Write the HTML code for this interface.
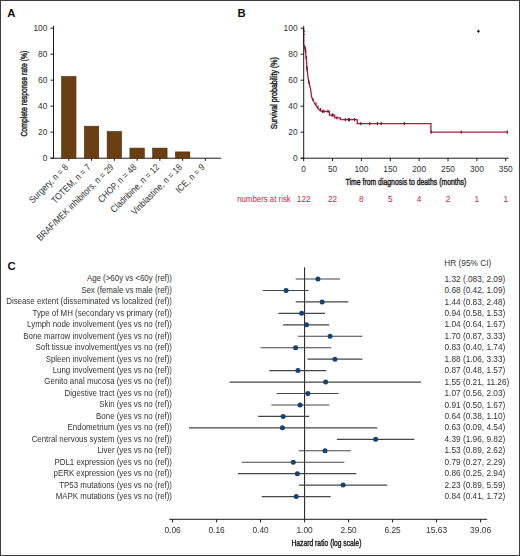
<!DOCTYPE html>
<html><head><meta charset="utf-8"><style>
html,body{margin:0;padding:0;background:#fff;}
body{width:520px;height:556px;overflow:hidden;}
svg{display:block;filter:blur(0.3px);}
text{font-family:"Liberation Sans", sans-serif;}
.lab{font-size:11.3px;font-weight:bold;fill:#111;}
.tk{font-size:8.4px;fill:#333;stroke:#333;stroke-width:0px;}
.rl{font-size:8.2px;fill:#333;stroke:#333;stroke-width:0px;}
.ct{font-size:7.9px;fill:#333;stroke:#333;stroke-width:0px;}
.hr{font-size:8.3px;fill:#333;stroke:#333;stroke-width:0px;}
.risk{font-size:8.3px;fill:#c2284a;stroke:#c2284a;stroke-width:0px;}
.cond{font-size:9.2px;fill:#1a1a1a;stroke:#1a1a1a;stroke-width:0.4px;}
.ax{stroke:#1a1a1a;stroke-width:1;fill:none;}
.bar{fill:#6b3f14;stroke:#4a2a0a;stroke-width:0.6;}
.km{fill:none;stroke:#b01a3c;stroke-width:1.3;}
.cm{stroke:#7a0f28;stroke-width:1.1;}
.ci{stroke:#454545;stroke-width:1.15;}
.pt{fill:#174270;}
</style></head><body>
<svg width="520" height="556" viewBox="0 0 520 556">
<rect x="0.5" y="0.5" width="519" height="555" fill="#fff" stroke="#3c3c3c" stroke-width="1"/>
<text transform="translate(7.30,17.10)" class="lab">A</text>
<line x1="53.5" y1="25.8" x2="53.5" y2="158.2" class="ax"/>
<line x1="50.5" y1="158.20" x2="53.5" y2="158.20" class="ax"/>
<text transform="translate(47.40,161.20)" class="tk" text-anchor="end">0</text>
<line x1="50.5" y1="132.20" x2="53.5" y2="132.20" class="ax"/>
<text transform="translate(47.40,135.20)" class="tk" text-anchor="end">20</text>
<line x1="50.5" y1="106.20" x2="53.5" y2="106.20" class="ax"/>
<text transform="translate(47.40,109.20)" class="tk" text-anchor="end">40</text>
<line x1="50.5" y1="80.20" x2="53.5" y2="80.20" class="ax"/>
<text transform="translate(47.40,83.20)" class="tk" text-anchor="end">60</text>
<line x1="50.5" y1="54.20" x2="53.5" y2="54.20" class="ax"/>
<text transform="translate(47.40,57.20)" class="tk" text-anchor="end">80</text>
<line x1="50.5" y1="28.20" x2="53.5" y2="28.20" class="ax"/>
<text transform="translate(47.40,31.20)" class="tk" text-anchor="end">100</text>
<line x1="50.5" y1="158.2" x2="221.2" y2="158.2" class="ax"/>
<line x1="68.80" y1="158.2" x2="68.80" y2="160.79999999999998" class="ax"/>
<rect x="61.60" y="76.5" width="14.4" height="81.70" class="bar"/>
<line x1="91.57" y1="158.2" x2="91.57" y2="160.79999999999998" class="ax"/>
<rect x="84.37" y="126.2" width="14.4" height="32.00" class="bar"/>
<line x1="114.34" y1="158.2" x2="114.34" y2="160.79999999999998" class="ax"/>
<rect x="107.14" y="131.5" width="14.4" height="26.70" class="bar"/>
<line x1="137.11" y1="158.2" x2="137.11" y2="160.79999999999998" class="ax"/>
<rect x="129.91" y="148.1" width="14.4" height="10.10" class="bar"/>
<line x1="159.88" y1="158.2" x2="159.88" y2="160.79999999999998" class="ax"/>
<rect x="152.68" y="148.1" width="14.4" height="10.10" class="bar"/>
<line x1="182.65" y1="158.2" x2="182.65" y2="160.79999999999998" class="ax"/>
<rect x="175.45" y="151.9" width="14.4" height="6.30" class="bar"/>
<line x1="205.42" y1="158.2" x2="205.42" y2="160.79999999999998" class="ax"/>
<text transform="translate(68.80,167.70) rotate(-45) scale(1,1.15)" class="rl" text-anchor="end">Surgery, n = 8</text>
<text transform="translate(91.57,167.70) rotate(-45) scale(1,1.15)" class="rl" text-anchor="end">TOTEM, n = 7</text>
<text transform="translate(114.34,167.70) rotate(-45) scale(1,1.15)" class="rl" text-anchor="end">BRAF/MEK inhibitors, n = 29</text>
<text transform="translate(137.11,167.70) rotate(-45) scale(1,1.15)" class="rl" text-anchor="end">CHOP, n = 48</text>
<text transform="translate(159.88,167.70) rotate(-45) scale(1,1.15)" class="rl" text-anchor="end">Cladribine, n = 12</text>
<text transform="translate(182.65,167.70) rotate(-45) scale(1,1.15)" class="rl" text-anchor="end">Vinblastine, n = 18</text>
<text transform="translate(205.42,167.70) rotate(-45) scale(1,1.15)" class="rl" text-anchor="end">ICE, n = 9</text>
<text transform="translate(26.60,93.60) rotate(-90)" class="cond" text-anchor="middle" textLength="86" lengthAdjust="spacingAndGlyphs">Complete response rate (%)</text>
<text transform="translate(237.60,17.00)" class="lab">B</text>
<polyline points="303.60,28.20 303.60,44.00 304.30,46.00 305.00,48.50 305.60,53.00 306.20,57.70 306.60,62.00 306.90,67.70 307.40,72.00 308.10,78.00 308.60,80.80 309.60,85.00 310.80,90.00 311.50,96.50 312.80,100.00 314.50,103.00 316.30,106.00 318.00,108.50 320.00,110.50 321.70,111.30 329.40,111.30 329.40,115.20 334.60,115.20 334.60,117.90 340.40,117.90 340.40,119.70 357.20,119.70 357.20,123.60 430.90,123.60 430.90,132.20 508.00,132.20" class="km"/>
<line x1="305.00" y1="45.90" x2="305.00" y2="49.10" class="cm"/>
<line x1="305.50" y1="47.90" x2="305.50" y2="51.10" class="cm"/>
<line x1="305.80" y1="49.90" x2="305.80" y2="53.10" class="cm"/>
<line x1="306.20" y1="56.10" x2="306.20" y2="59.30" class="cm"/>
<line x1="306.90" y1="66.10" x2="306.90" y2="69.30" class="cm"/>
<line x1="307.20" y1="68.40" x2="307.20" y2="71.60" class="cm"/>
<line x1="308.60" y1="79.20" x2="308.60" y2="82.40" class="cm"/>
<line x1="309.00" y1="80.90" x2="309.00" y2="84.10" class="cm"/>
<line x1="313.00" y1="97.90" x2="313.00" y2="101.10" class="cm"/>
<line x1="316.00" y1="102.20" x2="316.00" y2="105.40" class="cm"/>
<line x1="318.00" y1="105.40" x2="318.00" y2="108.60" class="cm"/>
<line x1="320.50" y1="108.00" x2="320.50" y2="111.20" class="cm"/>
<line x1="322.50" y1="109.70" x2="322.50" y2="112.90" class="cm"/>
<line x1="324.00" y1="109.70" x2="324.00" y2="112.90" class="cm"/>
<line x1="328.00" y1="109.70" x2="328.00" y2="112.90" class="cm"/>
<line x1="332.00" y1="113.60" x2="332.00" y2="116.80" class="cm"/>
<line x1="333.00" y1="113.60" x2="333.00" y2="116.80" class="cm"/>
<line x1="337.00" y1="116.30" x2="337.00" y2="119.50" class="cm"/>
<line x1="345.40" y1="118.10" x2="345.40" y2="121.30" class="cm"/>
<line x1="348.50" y1="118.10" x2="348.50" y2="121.30" class="cm"/>
<line x1="349.50" y1="118.10" x2="349.50" y2="121.30" class="cm"/>
<line x1="354.60" y1="118.10" x2="354.60" y2="121.30" class="cm"/>
<line x1="360.80" y1="122.00" x2="360.80" y2="125.20" class="cm"/>
<line x1="369.70" y1="122.00" x2="369.70" y2="125.20" class="cm"/>
<line x1="377.40" y1="122.00" x2="377.40" y2="125.20" class="cm"/>
<line x1="381.20" y1="122.00" x2="381.20" y2="125.20" class="cm"/>
<line x1="404.40" y1="122.00" x2="404.40" y2="125.20" class="cm"/>
<line x1="431.20" y1="130.60" x2="431.20" y2="133.80" class="cm"/>
<line x1="461.30" y1="130.60" x2="461.30" y2="133.80" class="cm"/>
<line x1="507.30" y1="130.60" x2="507.30" y2="133.80" class="cm"/>
<line x1="303.7" y1="25.8" x2="303.7" y2="158.2" class="ax"/>
<line x1="300.6" y1="158.20" x2="303.7" y2="158.20" class="ax"/>
<text transform="translate(297.60,161.20)" class="tk" text-anchor="end">0</text>
<line x1="300.6" y1="132.20" x2="303.7" y2="132.20" class="ax"/>
<text transform="translate(297.60,135.20)" class="tk" text-anchor="end">20</text>
<line x1="300.6" y1="106.20" x2="303.7" y2="106.20" class="ax"/>
<text transform="translate(297.60,109.20)" class="tk" text-anchor="end">40</text>
<line x1="300.6" y1="80.20" x2="303.7" y2="80.20" class="ax"/>
<text transform="translate(297.60,83.20)" class="tk" text-anchor="end">60</text>
<line x1="300.6" y1="54.20" x2="303.7" y2="54.20" class="ax"/>
<text transform="translate(297.60,57.20)" class="tk" text-anchor="end">80</text>
<line x1="300.6" y1="28.20" x2="303.7" y2="28.20" class="ax"/>
<text transform="translate(297.60,31.20)" class="tk" text-anchor="end">100</text>
<line x1="300.6" y1="158.2" x2="508.6" y2="158.2" class="ax"/>
<line x1="303.70" y1="158.2" x2="303.70" y2="161.2" class="ax"/>
<text transform="translate(303.70,171.60)" class="tk" text-anchor="middle">0</text>
<text transform="translate(303.70,201.60) scale(1,1.1)" class="risk" text-anchor="middle">122</text>
<line x1="332.56" y1="158.2" x2="332.56" y2="161.2" class="ax"/>
<text transform="translate(332.56,171.60)" class="tk" text-anchor="middle">50</text>
<text transform="translate(332.56,201.60) scale(1,1.1)" class="risk" text-anchor="middle">22</text>
<line x1="361.42" y1="158.2" x2="361.42" y2="161.2" class="ax"/>
<text transform="translate(361.42,171.60)" class="tk" text-anchor="middle">100</text>
<text transform="translate(361.42,201.60) scale(1,1.1)" class="risk" text-anchor="middle">8</text>
<line x1="390.28" y1="158.2" x2="390.28" y2="161.2" class="ax"/>
<text transform="translate(390.28,171.60)" class="tk" text-anchor="middle">150</text>
<text transform="translate(390.28,201.60) scale(1,1.1)" class="risk" text-anchor="middle">5</text>
<line x1="419.14" y1="158.2" x2="419.14" y2="161.2" class="ax"/>
<text transform="translate(419.14,171.60)" class="tk" text-anchor="middle">200</text>
<text transform="translate(419.14,201.60) scale(1,1.1)" class="risk" text-anchor="middle">4</text>
<line x1="448.00" y1="158.2" x2="448.00" y2="161.2" class="ax"/>
<text transform="translate(448.00,171.60)" class="tk" text-anchor="middle">250</text>
<text transform="translate(448.00,201.60) scale(1,1.1)" class="risk" text-anchor="middle">2</text>
<line x1="476.86" y1="158.2" x2="476.86" y2="161.2" class="ax"/>
<text transform="translate(476.86,171.60)" class="tk" text-anchor="middle">300</text>
<text transform="translate(476.86,201.60) scale(1,1.1)" class="risk" text-anchor="middle">1</text>
<line x1="505.72" y1="158.2" x2="505.72" y2="161.2" class="ax"/>
<text transform="translate(505.72,171.60)" class="tk" text-anchor="middle">350</text>
<text transform="translate(505.72,201.60) scale(1,1.1)" class="risk" text-anchor="middle">1</text>
<text transform="translate(290.80,201.60) scale(1,1.1)" class="risk" text-anchor="end" style="font-size:7.85px">numbers at risk</text>
<text transform="translate(345.60,185.40)" class="cond" textLength="120.6" lengthAdjust="spacingAndGlyphs">Time from diagnosis to deaths (months)</text>
<text transform="translate(276.60,93.20) rotate(-90)" class="cond" text-anchor="middle" textLength="72.3" lengthAdjust="spacingAndGlyphs">Survival probability (%)</text>
<path d="M304 31.5h1.2M304 34.6h1.2" stroke="#8a1530" stroke-width="0.8"/>
<path d="M476.9 31.3h3M478.4 29.8v3" stroke="#111" stroke-width="1.1"/>
<text transform="translate(7.40,269.70)" class="lab">C</text>
<line x1="304.6" y1="267.3" x2="304.6" y2="519.3" class="ax"/>
<text transform="translate(172.00,281.40) scale(1,1.1)" class="ct" text-anchor="end">Age (&gt;60y vs &lt;60y (ref))</text>
<text transform="translate(444.50,281.60) scale(1,1.08)" class="hr">1.32 (.083, 2.09)</text>
<line x1="295.65" y1="279.00" x2="340.01" y2="279.00" class="ci"/>
<circle cx="317.94" cy="279.00" r="2.5" class="pt"/>
<text transform="translate(172.00,292.85) scale(1,1.1)" class="ct" text-anchor="end">Sex (female vs male (ref))</text>
<text transform="translate(444.50,293.05) scale(1,1.08)" class="hr">0.68 (0.42, 1.09)</text>
<line x1="262.93" y1="290.45" x2="308.74" y2="290.45" class="ci"/>
<circle cx="286.08" cy="290.45" r="2.5" class="pt"/>
<text transform="translate(172.00,304.30) scale(1,1.1)" class="ct" text-anchor="end">Disease extent (disseminated vs localized (ref))</text>
<text transform="translate(444.50,304.50) scale(1,1.08)" class="hr">1.44 (0.83, 2.48)</text>
<line x1="295.65" y1="301.90" x2="348.23" y2="301.90" class="ci"/>
<circle cx="322.11" cy="301.90" r="2.5" class="pt"/>
<text transform="translate(172.00,315.75) scale(1,1.1)" class="ct" text-anchor="end">Type of MH (secondary vs primary (ref))</text>
<text transform="translate(444.50,315.95) scale(1,1.08)" class="hr">0.94 (0.58, 1.53)</text>
<line x1="278.44" y1="313.35" x2="325.03" y2="313.35" class="ci"/>
<circle cx="301.63" cy="313.35" r="2.5" class="pt"/>
<text transform="translate(172.00,327.20) scale(1,1.1)" class="ct" text-anchor="end">Lymph node involvement (yes vs no (ref))</text>
<text transform="translate(444.50,327.40) scale(1,1.08)" class="hr">1.04 (0.64, 1.67)</text>
<line x1="283.16" y1="324.80" x2="329.23" y2="324.80" class="ci"/>
<circle cx="306.48" cy="324.80" r="2.5" class="pt"/>
<text transform="translate(172.00,338.65) scale(1,1.1)" class="ct" text-anchor="end">Bone marrow involvement (yes vs no (ref))</text>
<text transform="translate(444.50,338.85) scale(1,1.08)" class="hr">1.70 (0.87, 3.33)</text>
<line x1="297.91" y1="336.25" x2="362.38" y2="336.25" class="ci"/>
<circle cx="330.09" cy="336.25" r="2.5" class="pt"/>
<text transform="translate(172.00,350.10) scale(1,1.1)" class="ct" text-anchor="end">Soft tissue involvement(yes vs no (ref))</text>
<text transform="translate(444.50,350.30) scale(1,1.08)" class="hr">0.83 (0.40, 1.74)</text>
<line x1="260.59" y1="347.70" x2="331.20" y2="347.70" class="ci"/>
<circle cx="295.65" cy="347.70" r="2.5" class="pt"/>
<text transform="translate(172.00,361.55) scale(1,1.1)" class="ct" text-anchor="end">Spleen involvement (yes vs no (ref))</text>
<text transform="translate(444.50,361.75) scale(1,1.08)" class="hr">1.88 (1.06, 3.33)</text>
<line x1="307.40" y1="359.15" x2="362.38" y2="359.15" class="ci"/>
<circle cx="334.92" cy="359.15" r="2.5" class="pt"/>
<text transform="translate(172.00,373.00) scale(1,1.1)" class="ct" text-anchor="end">Lung involvement (yes vs no (ref))</text>
<text transform="translate(444.50,373.20) scale(1,1.08)" class="hr">0.87 (0.48, 1.57)</text>
<line x1="269.35" y1="370.60" x2="326.27" y2="370.60" class="ci"/>
<circle cx="297.91" cy="370.60" r="2.5" class="pt"/>
<text transform="translate(172.00,384.45) scale(1,1.1)" class="ct" text-anchor="end">Genito anal mucosa (yes vs no (ref))</text>
<text transform="translate(444.50,384.65) scale(1,1.08)" class="hr">1.55 (0.21, 11.26)</text>
<line x1="229.64" y1="382.05" x2="420.90" y2="382.05" class="ci"/>
<circle cx="325.65" cy="382.05" r="2.5" class="pt"/>
<text transform="translate(172.00,395.90) scale(1,1.1)" class="ct" text-anchor="end">Digestive tract (yes vs no (ref))</text>
<text transform="translate(444.50,396.10) scale(1,1.08)" class="hr">1.07 (0.56, 2.03)</text>
<line x1="276.75" y1="393.50" x2="338.61" y2="393.50" class="ci"/>
<circle cx="307.85" cy="393.50" r="2.5" class="pt"/>
<text transform="translate(172.00,407.35) scale(1,1.1)" class="ct" text-anchor="end">Skin (yes vs no (ref))</text>
<text transform="translate(444.50,407.55) scale(1,1.08)" class="hr">0.91 (0.50, 1.67)</text>
<line x1="271.31" y1="404.95" x2="329.23" y2="404.95" class="ci"/>
<circle cx="300.07" cy="404.95" r="2.5" class="pt"/>
<text transform="translate(172.00,418.80) scale(1,1.1)" class="ct" text-anchor="end">Bone (yes vs no (ref))</text>
<text transform="translate(444.50,419.00) scale(1,1.08)" class="hr">0.64 (0.38, 1.10)</text>
<line x1="258.12" y1="416.40" x2="309.18" y2="416.40" class="ci"/>
<circle cx="283.16" cy="416.40" r="2.5" class="pt"/>
<text transform="translate(172.00,430.25) scale(1,1.1)" class="ct" text-anchor="end">Endometrium (yes vs no (ref))</text>
<text transform="translate(444.50,430.45) scale(1,1.08)" class="hr">0.63 (0.09, 4.54)</text>
<line x1="188.94" y1="427.85" x2="377.27" y2="427.85" class="ci"/>
<circle cx="282.41" cy="427.85" r="2.5" class="pt"/>
<text transform="translate(172.00,441.70) scale(1,1.1)" class="ct" text-anchor="end">Central nervous system (yes vs no (ref))</text>
<text transform="translate(444.50,441.90) scale(1,1.08)" class="hr">4.39 (1.96, 9.82)</text>
<line x1="336.92" y1="439.30" x2="414.33" y2="439.30" class="ci"/>
<circle cx="375.66" cy="439.30" r="2.5" class="pt"/>
<text transform="translate(172.00,453.15) scale(1,1.1)" class="ct" text-anchor="end">Liver (yes vs no (ref))</text>
<text transform="translate(444.50,453.35) scale(1,1.08)" class="hr">1.53 (0.89, 2.62)</text>
<line x1="299.00" y1="450.75" x2="350.86" y2="450.75" class="ci"/>
<circle cx="325.03" cy="450.75" r="2.5" class="pt"/>
<text transform="translate(172.00,464.60) scale(1,1.1)" class="ct" text-anchor="end">PDL1 expression (yes vs no (ref))</text>
<text transform="translate(444.50,464.80) scale(1,1.08)" class="hr">0.79 (0.27, 2.29)</text>
<line x1="241.71" y1="462.20" x2="344.40" y2="462.20" class="ci"/>
<circle cx="293.28" cy="462.20" r="2.5" class="pt"/>
<text transform="translate(172.00,476.05) scale(1,1.1)" class="ct" text-anchor="end">pERK expression (yes vs no (ref))</text>
<text transform="translate(444.50,476.25) scale(1,1.08)" class="hr">0.86 (0.25, 2.94)</text>
<line x1="238.01" y1="473.65" x2="356.40" y2="473.65" class="ci"/>
<circle cx="297.36" cy="473.65" r="2.5" class="pt"/>
<text transform="translate(172.00,487.50) scale(1,1.1)" class="ct" text-anchor="end">TP53 mutations (yes vs no (ref))</text>
<text transform="translate(444.50,487.70) scale(1,1.08)" class="hr">2.23 (0.89, 5.59)</text>
<line x1="299.00" y1="485.10" x2="387.26" y2="485.10" class="ci"/>
<circle cx="343.12" cy="485.10" r="2.5" class="pt"/>
<text transform="translate(172.00,498.95) scale(1,1.1)" class="ct" text-anchor="end">MAPK mutations (yes vs no (ref))</text>
<text transform="translate(444.50,499.15) scale(1,1.08)" class="hr">0.84 (0.41, 1.72)</text>
<line x1="261.77" y1="496.55" x2="330.65" y2="496.55" class="ci"/>
<circle cx="296.23" cy="496.55" r="2.5" class="pt"/>
<text transform="translate(444.30,266.30) scale(1,1.08)" class="hr">HR (95% CI)</text>
<line x1="169.2" y1="519.3" x2="487.2" y2="519.3" class="ax"/>
<line x1="172.60" y1="519.3" x2="172.60" y2="522.4" class="ax"/>
<text transform="translate(172.60,533.00)" class="tk" text-anchor="middle">0.06</text>
<line x1="216.60" y1="519.3" x2="216.60" y2="522.4" class="ax"/>
<text transform="translate(216.60,533.00)" class="tk" text-anchor="middle">0.16</text>
<line x1="260.60" y1="519.3" x2="260.60" y2="522.4" class="ax"/>
<text transform="translate(260.60,533.00)" class="tk" text-anchor="middle">0.40</text>
<line x1="304.60" y1="519.3" x2="304.60" y2="522.4" class="ax"/>
<text transform="translate(304.60,533.00)" class="tk" text-anchor="middle">1.00</text>
<line x1="348.60" y1="519.3" x2="348.60" y2="522.4" class="ax"/>
<text transform="translate(348.60,533.00)" class="tk" text-anchor="middle">2.50</text>
<line x1="392.60" y1="519.3" x2="392.60" y2="522.4" class="ax"/>
<text transform="translate(392.60,533.00)" class="tk" text-anchor="middle">6.25</text>
<line x1="436.60" y1="519.3" x2="436.60" y2="522.4" class="ax"/>
<text transform="translate(436.60,533.00)" class="tk" text-anchor="middle">15.63</text>
<line x1="480.60" y1="519.3" x2="480.60" y2="522.4" class="ax"/>
<text transform="translate(480.60,533.00)" class="tk" text-anchor="middle">39.06</text>
<text transform="translate(291.40,546.20)" class="cond" textLength="70" lengthAdjust="spacingAndGlyphs">Hazard ratio (log scale)</text>
</svg>
</body></html>
